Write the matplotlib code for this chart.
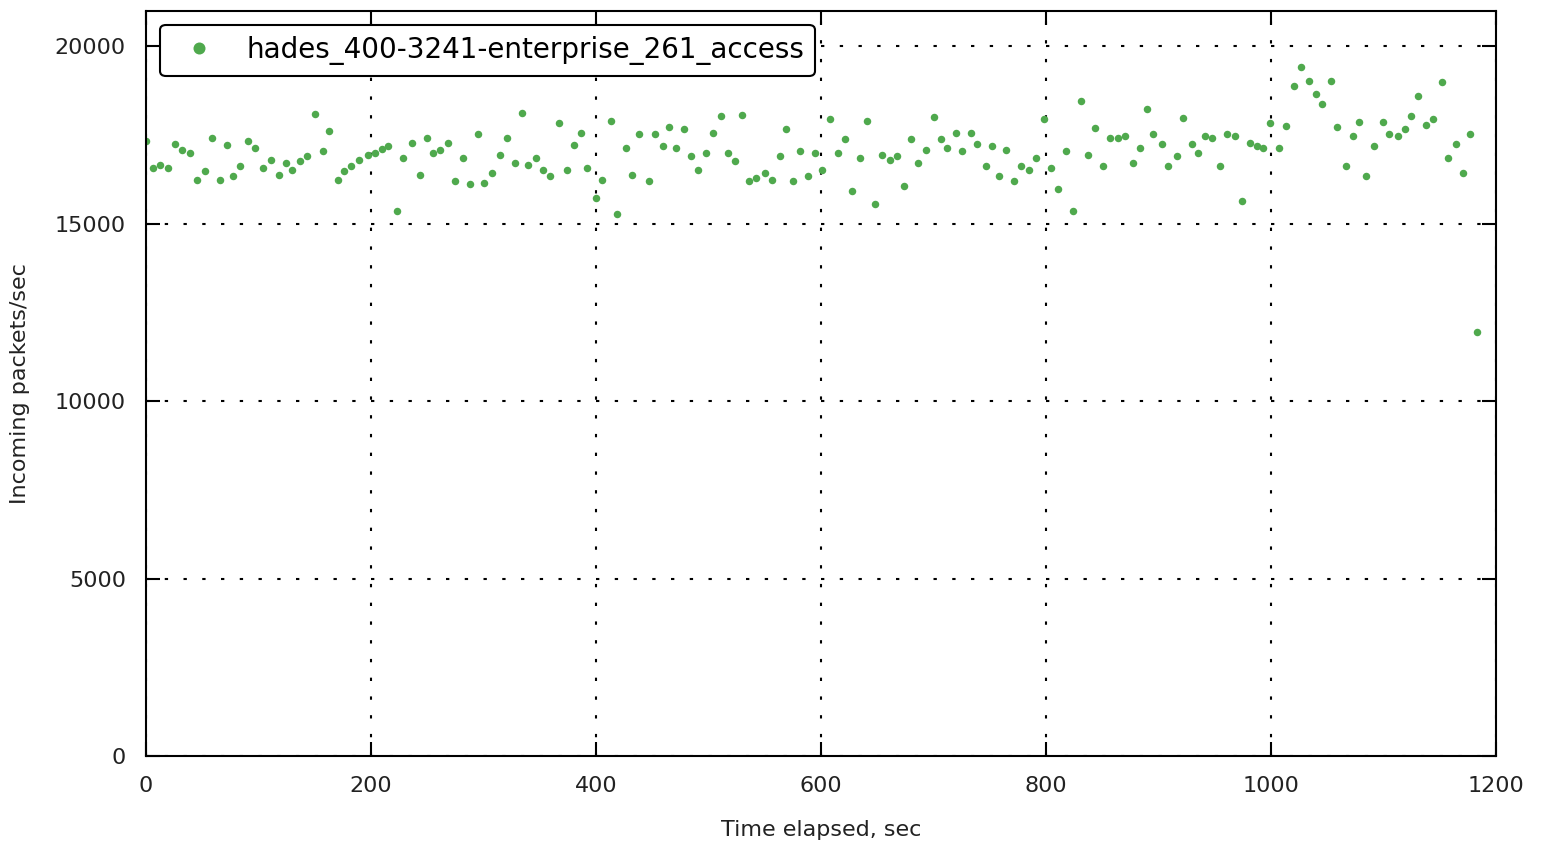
import matplotlib.pyplot as plt

# Time stamps (sec) and incoming packet rates
time_sec = [
    0.0, 6.5, 12.4, 19.8, 25.8, 31.7, 39.1, 45.1, 52.4, 58.4,
    65.8, 71.7, 77.6, 83.6, 90.9, 96.9, 104.3, 110.8, 118.5, 124.2,
    130.0, 136.9, 143.4, 150.2, 157.1, 162.9, 170.4, 176.3, 182.2, 189.6,
    197.1, 203.6, 209.5, 215.4, 222.8, 228.7, 236.2, 243.6, 249.5, 255.4,
    261.3, 268.7, 274.7, 282.0, 288.0, 295.4, 300.4, 307.3, 314.7, 320.6,
    328.0, 334.0, 339.8, 346.4, 353.2, 359.1, 366.8, 374.0, 380.4, 386.4,
    392.3, 399.7, 405.6, 413.1, 418.9, 426.4, 432.3, 438.5, 447.1, 452.4,
    459.3, 465.2, 471.1, 478.5, 484.4, 490.9, 497.8, 503.7, 511.1, 517.1,
    523.6, 529.5, 536.0, 542.2, 550.2, 556.2, 563.6, 568.9, 575.4, 581.3,
    588.7, 594.7, 601.3, 608.0, 615.4, 621.3, 627.3, 634.7, 640.6, 648.0,
    654.0, 661.3, 667.3, 673.8, 679.7, 686.5, 693.3, 700.4, 706.4, 712.3,
    719.7, 725.6, 733.1, 739.0, 746.4, 751.7, 758.5, 764.4, 771.6, 777.8,
    785.2, 791.1, 798.5, 804.4, 810.4, 817.8, 824.3, 830.8, 837.1, 843.6,
    850.9, 856.9, 863.7, 870.2, 877.6, 883.6, 889.5, 895.4, 903.1, 908.7,
    916.2, 922.0, 929.5, 935.4, 941.3, 947.3, 954.7, 960.6, 968.0, 974.5,
    981.3, 987.3, 993.2, 999.1, 1007.1, 1013.1, 1020.4, 1026.7, 1034.0, 1039.7,
    1045.6, 1053.1, 1058.9, 1066.4, 1072.6, 1078.5, 1084.4, 1091.8, 1099.3, 1105.2,
    1112.6, 1118.8, 1124.4, 1130.4, 1137.8, 1144.3, 1151.7, 1157.3, 1164.4, 1170.7,
    1176.9, 1182.8,
]
packets = [
    17330, 16580, 16670, 16580, 17240, 17090, 17000, 16250, 16480, 17420,
    16250, 17210, 16340, 16620, 17330, 17140, 16580, 16810, 16390, 16720,
    16530, 16770, 16910, 18110, 17050, 17610, 16250, 16480, 16620, 16810,
    16950, 17000, 17110, 17190, 15360, 16860, 17280, 16390, 17420, 17000,
    17090, 17280, 16200, 16860, 16110, 17520, 16160, 16440, 16950, 17420,
    16720, 18130, 16670, 16860, 16530, 16340, 17840, 16530, 17210, 17560,
    16580, 15730, 16250, 17890, 15270, 17140, 16390, 17520, 16200, 17520,
    17190, 17720, 17140, 17670, 16910, 16530, 17000, 17560, 18030, 17000,
    16770, 18080, 16200, 16300, 16440, 16250, 16910, 17670, 16200, 17050,
    16340, 17000, 16530, 17960, 17000, 17390, 15920, 16860, 17910, 15550,
    16950, 16810, 16910, 16060, 17390, 16720, 17090, 18000, 17390, 17140,
    17560, 17050, 17560, 17240, 16620, 17190, 16340, 17090, 16200, 16620,
    16530, 16860, 17960, 16580, 15970, 17050, 15360, 18470, 16950, 17700,
    16620, 17420, 17420, 17470, 16720, 17140, 18240, 17520, 17240, 16620,
    16910, 17980, 17240, 17000, 17470, 17420, 16620, 17520, 17470, 15640,
    17280, 17190, 17140, 17840, 17140, 17750, 18900, 19410, 19040, 18660,
    18380, 19040, 17720, 16620, 17470, 17860, 16340, 17190, 17860, 17520,
    17470, 17670, 18030, 18610, 17800, 17960, 18990, 16860, 17240, 16440,
    17520, 11960,
]
series_name = "hades_400-3241-enterprise_261_access"

x_ticks = [0, 200, 400, 600, 800, 1000, 1200]
y_ticks = [0, 5000, 10000, 15000, 20000]

fig = plt.figure(figsize=(15.44, 8.48), dpi=100)
ax = fig.add_axes([0.0946, 0.1085, 0.8743, 0.8785])

ax.plot(time_sec, packets, linestyle="none", marker="o", markersize=5.4,
        markeredgewidth=0, color="#4fa94d", label=series_name)

ax.set_xlim(0, 1200)
ax.set_ylim(0, 21000)
ax.set_xticks(x_ticks)
ax.set_yticks(y_ticks)

ax.grid(True, color="black", linewidth=1.5, linestyle=(0, (1.6, 7.4)))
ax.tick_params(direction="in", length=10, width=1.5, top=True, right=True,
               labelsize=16, pad=14.5, labelcolor="#222222")
for spine in ax.spines.values():
    spine.set_linewidth(1.5)

ax.set_xlabel("Time elapsed, sec", fontsize=16, labelpad=17, color="#222222")
ax.set_ylabel("Incoming packets/sec", fontsize=16, labelpad=18, color="#222222")

leg = ax.legend(loc="upper left", numpoints=1, markerscale=1.6, fontsize=20,
                fancybox=True, framealpha=1, borderaxespad=0.5,
                handletextpad=0.7)
leg.get_frame().set_edgecolor("black")
leg.get_frame().set_linewidth(1.5)

plt.savefig("out.png", dpi=100)
